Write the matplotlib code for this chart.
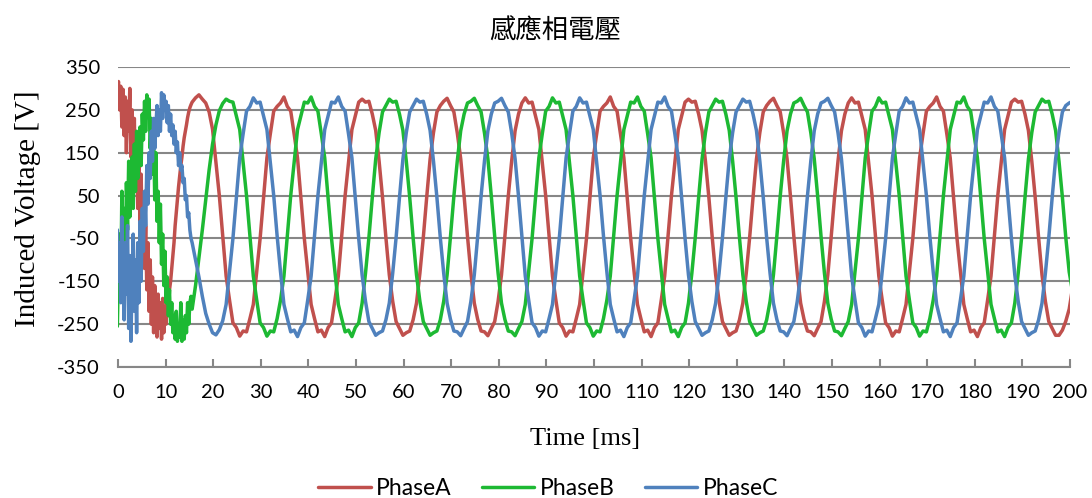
import numpy as np
import matplotlib
matplotlib.use("Agg")
import matplotlib.pyplot as plt

# Sampling grid (ms): a fine grid for the start-up transient, then the regular grid
T_START = -0.137
T_STEP = 0.71417
FINE_DIV = 3
MAIN_OFFSET = 22

# Start-up transient [V], sampled every T_STEP / 3
transient_a = [
    290, 316, 250, 305, 210, 298, 190, 280,
    150, 270, 200, 300, 140, 250, 120, 230,
    60, 190, 20, 150, -30, 100, -80, 40,
    -120, -20, -170, -60, -220, -100, -250, -140,
    -270, -160, -230, -280, -180, -260, -200, -285,
    -190, -270, -210, -250, -160, -230, -170, -150,
    -120, -90, -60, -20, 10, 40, 70, 95,
    120, 140, 165, 185, 200, 215, 232, 245,
    255, 262,
]
transient_b = [
    -255, -120, -40, -170, 60, -100, 20, -150,
    80, -30, 130, 0, 100, 140, 20, 170,
    60, 200, 90, 150, 210, 120, 240, 180,
    270, 200, 285, 240, 275, 160, 230, 100,
    200, 40, 150, -10, 60, -60, 30, -110,
    -40, -160, -80, -200, -140, -230, -170, -250,
    -200, -270, -230, -285, -220, -290, -250, -280,
    -200, -290, -240, -285, -230, -270, -200, -250,
    -200, -185,
]
transient_c = [
    -30, -150, -60, -200, 0, -120, -240, -60,
    -180, -20, -260, -90, -290, -140, -40, -220,
    -100, -270, -60, -200, -10, -150, 20, -80,
    60, -20, 120, 30, 150, 90, 200, 130,
    230, 160, 210, 260, 190, 250, 200, 290,
    230, 285, 250, 270, 220, 260, 200, 240,
    190, 215, 170, 200, 150, 175, 120, 150,
    110, 120, 80, 90, 40, 50, 0, 10,
    -30, -50,
]

# Induced phase voltages [V] on the regular grid, from sample 22 on
phase_a = [
    268, 278,
    285, 275, 266, 245, 205, 128, 50, -44, -138, -194, -247, -258, -278, -266, -268, -237, -204, -128, -50, 44, 138, 194, 247, 258,
    266, 280, 258, 247, 194, 138, 44, -50, -128, -204, -237, -268, -264, -279, -258, -247, -194, -138, -44, 50, 128, 204, 236, 268,
    275, 268, 270, 240, 202, 130, 46, -48, -135, -197, -244, -260, -276, -270, -266, -240, -201, -131, -48, 46, 135, 197, 245, 260,
    270, 277, 260, 245, 196, 136, 49, -45, -131, -201, -239, -266, -268, -277, -260, -244, -197, -135, -45, 49, 131, 201, 240, 266,
    278, 266, 268, 236, 204, 128, 50, -44, -138, -194, -247, -258, -278, -266, -268, -237, -204, -128, -50, 44, 138, 194, 247, 258,
    266, 280, 258, 247, 194, 138, 44, -50, -128, -204, -237, -268, -264, -279, -258, -247, -194, -138, -44, 50, 128, 204, 236, 268,
    275, 268, 270, 240, 202, 130, 46, -48, -135, -197, -244, -260, -276, -270, -266, -240, -201, -131, -48, 46, 135, 197, 245, 260,
    270, 277, 260, 245, 196, 136, 49, -45, -131, -201, -239, -266, -268, -277, -260, -244, -197, -135, -45, 49, 131, 201, 240, 266,
    278, 266, 268, 236, 204, 128, 50, -44, -138, -194, -247, -258, -278, -266, -268, -237, -204, -128, -50, 44, 138, 194, 247, 258,
    266, 280, 258, 247, 194, 138, 44, -50, -128, -204, -237, -268, -264, -279, -258, -247, -194, -138, -44, 50, 128, 204, 236, 268,
    275, 268, 270, 240, 202, 130, 46, -48, -135, -197, -244, -260, -276, -276, -264, -243, -215, -165,
]
phase_b = [
    -215, -160,
    -95, -30, 40, 110, 170, 215, 248, 265, 275, 270, 268, 236, 204, 128, 50, -44, -138, -194, -247, -258, -278, -266, -268, -237,
    -194, -138, -44, 50, 128, 204, 236, 268, 266, 280, 258, 247, 194, 138, 44, -50, -128, -204, -237, -268, -264, -279, -258, -247,
    -201, -131, -48, 46, 135, 197, 245, 260, 275, 268, 270, 240, 202, 130, 46, -48, -135, -197, -244, -260, -276, -270, -266, -240,
    -197, -135, -45, 49, 131, 201, 240, 266, 270, 277, 260, 245, 196, 136, 49, -45, -131, -201, -239, -266, -268, -277, -260, -244,
    -204, -128, -50, 44, 138, 194, 247, 258, 278, 266, 268, 236, 204, 128, 50, -44, -138, -194, -247, -258, -278, -266, -268, -237,
    -194, -138, -44, 50, 128, 204, 236, 268, 266, 280, 258, 247, 194, 138, 44, -50, -128, -204, -237, -268, -264, -279, -258, -247,
    -201, -131, -48, 46, 135, 197, 245, 260, 275, 268, 270, 240, 202, 130, 46, -48, -135, -197, -244, -260, -276, -270, -266, -240,
    -197, -135, -45, 49, 131, 201, 240, 266, 270, 277, 260, 245, 196, 136, 49, -45, -131, -201, -239, -266, -268, -277, -260, -244,
    -204, -128, -50, 44, 138, 194, 247, 258, 278, 266, 268, 236, 204, 128, 50, -44, -138, -194, -247, -258, -278, -266, -268, -237,
    -194, -138, -44, 50, 128, 204, 236, 268, 266, 280, 258, 247, 194, 138, 44, -50, -128, -204, -237, -268, -264, -279, -258, -247,
    -201, -131, -48, 46, 135, 197, 245, 260, 275, 268, 270, 240, 202, 130, 46, -48, -128, -175,
]
phase_c = [
    -60, -100,
    -140, -185, -225, -250, -270, -275, -263, -242, -204, -128, -50, 44, 138, 194, 247, 258, 278, 266, 268, 236, 204, 128, 50, -44,
    -128, -204, -237, -268, -264, -279, -258, -247, -194, -138, -44, 50, 128, 204, 236, 268, 266, 280, 258, 247, 194, 138, 44, -50,
    -135, -197, -244, -260, -276, -270, -266, -240, -201, -131, -48, 46, 135, 197, 245, 260, 275, 268, 270, 240, 202, 130, 46, -48,
    -131, -201, -239, -266, -268, -277, -260, -244, -197, -135, -45, 49, 131, 201, 240, 266, 270, 277, 260, 245, 196, 136, 49, -45,
    -138, -194, -247, -258, -278, -266, -268, -237, -204, -128, -50, 44, 138, 194, 247, 258, 278, 266, 268, 236, 204, 128, 50, -44,
    -128, -204, -237, -268, -264, -279, -258, -247, -194, -138, -44, 50, 128, 204, 236, 268, 266, 280, 258, 247, 194, 138, 44, -50,
    -135, -197, -244, -260, -276, -270, -266, -240, -201, -131, -48, 46, 135, 197, 245, 260, 275, 268, 270, 240, 202, 130, 46, -48,
    -131, -201, -239, -266, -268, -277, -260, -244, -197, -135, -45, 49, 131, 201, 240, 266, 270, 277, 260, 245, 196, 136, 49, -45,
    -138, -194, -247, -258, -278, -266, -268, -237, -204, -128, -50, 44, 138, 194, 247, 258, 278, 266, 268, 236, 204, 128, 50, -44,
    -128, -204, -237, -268, -264, -279, -258, -247, -194, -138, -44, 50, 128, 204, 236, 268, 266, 280, 258, 247, 194, 138, 44, -50,
    -135, -197, -244, -260, -276, -270, -266, -240, -201, -131, -48, 46, 135, 197, 245, 260, 266, 270,
]

series_names = ["PhaseA", "PhaseB", "PhaseC"]
series_colors = ["#C0504D", "#1DB933", "#4F81BD"]
x_ticks = list(range(0, 201, 10))
y_ticks = [-350, -250, -150, -50, 50, 150, 250, 350]

title_text = "感應相電壓"
x_label = "Time [ms]"
y_label = "Induced Voltage [V]"

tick_font = "Lato"
serif_font = "Liberation Serif"
cjk_font = ["Noto Sans CJK TC", "DejaVu Sans"]
grid_color = "#878787"

fig = plt.figure(figsize=(10.92, 4.98), dpi=100)
ax = fig.add_axes([118 / 1092, 1 - 367 / 498, (1070 - 118) / 1092, 300 / 498])

t_fine = T_START + (T_STEP / FINE_DIV) * np.arange(len(transient_a))
t_main = T_START + T_STEP * (MAIN_OFFSET + np.arange(len(phase_a)))
t_all = np.concatenate([t_fine, t_main])

for fine, main, name, color in zip([transient_a, transient_b, transient_c],
                                   [phase_a, phase_b, phase_c],
                                   series_names, series_colors):
    values = np.concatenate([fine, main])
    ax.plot(t_all, values, color=color, lw=2.5, label=name,
            solid_joinstyle="round", solid_capstyle="round")

ax.set_xlim(0, 200)
ax.set_ylim(-350, 350)
ax.set_xticks(x_ticks)
ax.set_yticks(y_ticks)
ax.set_xticklabels([str(v) for v in x_ticks], fontfamily=tick_font, fontsize=14.5)
ax.set_yticklabels([str(v) for v in y_ticks], fontfamily=tick_font, fontsize=14.5)

ax.yaxis.grid(True, color=grid_color, lw=1.5)
ax.set_axisbelow(True)
for side in ["left", "right", "top"]:
    ax.spines[side].set_visible(False)
ax.spines["bottom"].set_color(grid_color)
ax.spines["bottom"].set_linewidth(1.5)
ax.tick_params(axis="x", direction="in", length=6, width=1.5, color=grid_color, pad=12)
ax.tick_params(axis="y", length=0, pad=13)

fig.text(0.508, 0.938, title_text, ha="center", va="center",
         fontsize=19, family=cjk_font, fontweight="medium")
fig.text(0.536, 0.118, x_label, ha="center", va="center",
         fontsize=19, family=serif_font)
fig.text(0.026, 0.58, y_label, ha="center", va="center", rotation=90,
         fontsize=21, family=serif_font)

fig.legend(loc="center", bbox_to_anchor=(0.502, 0.019), ncol=3, frameon=False,
           prop={"family": tick_font, "size": 16.5}, handlelength=2.3,
           handletextpad=0.25, columnspacing=1.3)

fig.savefig("out.png", dpi=100)
